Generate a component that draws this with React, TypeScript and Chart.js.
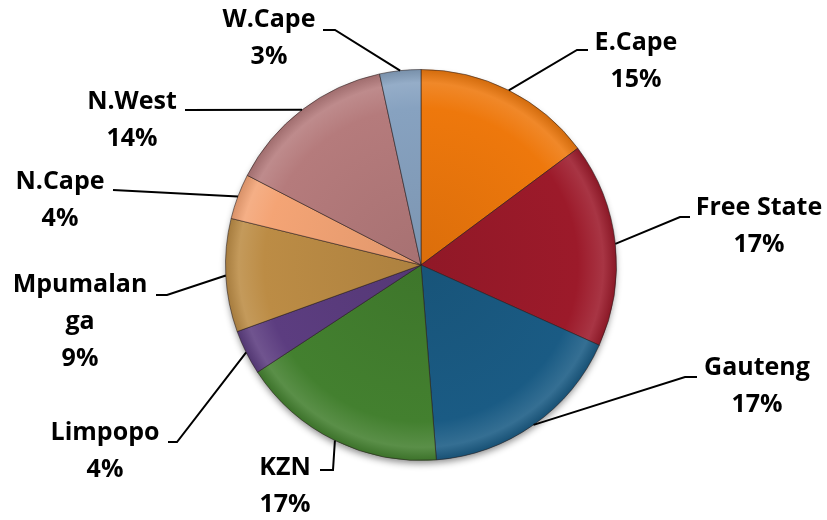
import React, { useEffect, useRef } from "react";
import { Chart, registerables } from "chart.js";

Chart.register(...registerables);

const PROVINCES = ["E.Cape", "Free State", "Gauteng", "KZN", "Limpopo", "Mpumalanga", "N.Cape", "N.West", "W.Cape"];
const LABEL_LINES = [["E.Cape"], ["Free State"], ["Gauteng"], ["KZN"], ["Limpopo"], ["Mpumalan", "ga"], ["N.Cape"], ["N.West"], ["W.Cape"]];
const SHARES = [14.8, 16.9, 17.0, 17.0, 3.7, 9.35, 3.75, 14.0, 3.4];
const COLORS = ["#EE780C", "#9C1A2A", "#1A5B84", "#43802F", "#5C3D80", "#BC8C45", "#F4A475", "#B57B7C", "#87A2C0"];

// label layout: text centre (first line) and elbow point, relative to pie centre, in px
const LABEL_LAYOUT = [
  { tx: 215, ty: -222, ex: 156, ey: -215, sx: 167 },
  { tx: 338, ty: -57, ex: 259, ey: -48, sx: 269 },
  { tx: 336, ty: 103, ex: 264, ey: 112, sx: 276 },
  { tx: -136, ty: 203, ex: -88, ey: 205, sx: -101 },
  { tx: -316, ty: 168, ex: -244, ey: 177, sx: -253 },
  { tx: -341, ty: 20, ex: -254, ey: 30, sx: -265 },
  { tx: -361, ty: -83, ex: -308, ey: -75, sx: -308 },
  { tx: -289, ty: -163, ex: -236, ey: -155, sx: -236 },
  { tx: -152, ty: -245, ex: -86, ey: -235, sx: -98 },
];

function shade(hex: string, amt: number): string {
  const n = parseInt(hex.slice(1), 16);
  let r = (n >> 16) & 255, g = (n >> 8) & 255, b = n & 255;
  const f = (c: number) => Math.max(0, Math.min(255, Math.round(amt >= 0 ? c + (255 - c) * amt : c * (1 + amt))));
  return `rgb(${f(r)},${f(g)},${f(b)})`;
}

const FONT = "bold 25px 'Open Sans', Lato, sans-serif";

const labelPlugin = {
  id: "leaderLabels",
  beforeDatasetsDraw(chart: any) {
    const meta = chart.getDatasetMeta(0);
    const arc = meta.data[0];
    if (!arc) return;
    const { x, y, outerRadius } = arc.getProps(["x", "y", "outerRadius"], true);
    const ctx = chart.ctx;
    ctx.save();
    ctx.beginPath();
    ctx.arc(x, y + 1, outerRadius - 1, 0, Math.PI * 2);
    ctx.shadowColor = "rgba(0,0,0,0.45)";
    ctx.shadowBlur = 7;
    ctx.shadowOffsetY = 3;
    ctx.fillStyle = "#777";
    ctx.fill();
    ctx.restore();
  },
  afterDatasetsDraw(chart: any) {
    const ctx = chart.ctx;
    const meta = chart.getDatasetMeta(0);
    const total = SHARES.reduce((a, b) => a + b, 0);
    ctx.save();
    meta.data.forEach((el: any, i: number) => {
      const p = el.getProps(["x", "y", "startAngle", "endAngle", "outerRadius"], true);
      const mid = (p.startAngle + p.endAngle) / 2;
      const px = p.x + Math.cos(mid) * p.outerRadius;
      const py = p.y + Math.sin(mid) * p.outerRadius;
      const L = LABEL_LAYOUT[i];
      ctx.strokeStyle = "#000";
      ctx.lineWidth = 2;
      ctx.beginPath();
      ctx.moveTo(px, py);
      ctx.lineTo(p.x + L.ex, p.y + L.ey);
      ctx.lineTo(p.x + L.sx, p.y + L.ey);
      ctx.stroke();
      ctx.fillStyle = "#000";
      ctx.font = FONT;
      ctx.textAlign = "center";
      ctx.textBaseline = "middle";
      const lines = [...LABEL_LINES[i], Math.round((SHARES[i] / total) * 100) + "%"];
      lines.forEach((t, k) => {
        ctx.fillText(t, p.x + L.tx, p.y + L.ty + k * 37);
      });
    });
    ctx.restore();
  },
};

export default function App() {
  const ref = useRef<HTMLCanvasElement>(null);
  useEffect(() => {
    if (!ref.current) return;
    const chart = new Chart(ref.current, {
      type: "pie",
      data: {
        labels: PROVINCES,
        datasets: [
          {
            data: SHARES,
            backgroundColor: (c: any) => {
              const base = COLORS[c.dataIndex];
              const area = c.chart.chartArea;
              if (!area) return base;
              const cx = (area.left + area.right) / 2;
              const cy = (area.top + area.bottom) / 2;
              const r = Math.min(area.right - area.left, area.bottom - area.top) / 2;
              const g = c.chart.ctx.createRadialGradient(cx, cy, 0, cx, cy, r);
              g.addColorStop(0, shade(base, -0.08));
              g.addColorStop(0.8, base);
              g.addColorStop(0.93, shade(base, 0.12));
              g.addColorStop(1, shade(base, -0.12));
              return g;
            },
            borderColor: "rgba(40,30,30,0.55)",
            borderWidth: 1,
          },
        ],
      },
      options: {
        responsive: false,
        animation: false,
        rotation: 0,
        layout: { padding: { top: 69, bottom: 59, left: 225, right: 210 } },
        plugins: { legend: { display: false }, tooltip: { enabled: false } },
      },
      plugins: [labelPlugin],
    });
    return () => chart.destroy();
  }, []);
  return (
    <div style={{ position: "absolute", left: 0, top: 0, width: 827, height: 520, background: "#fff" }}>
      <canvas ref={ref} width={827} height={520} />
    </div>
  );
}
